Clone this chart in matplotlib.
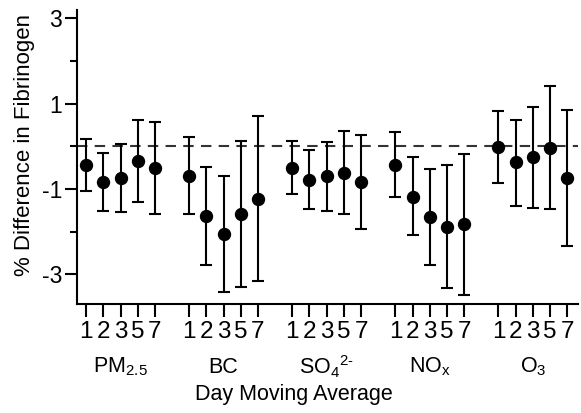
import matplotlib
matplotlib.use("Agg")
import matplotlib.pyplot as plt
import matplotlib.transforms as mtransforms
import numpy as np

plt.rcParams['font.family'] = ['Liberation Sans', 'DejaVu Sans']
plt.rcParams['mathtext.fontset'] = 'custom'
plt.rcParams['mathtext.rm'] = 'Liberation Sans'
plt.rcParams['mathtext.it'] = 'Liberation Sans'

pollutants = [r'PM$_{2.5}$', 'BC', r'SO$_4$$^{2\text{-}}$', r'NO$_x$', r'O$_3$']
days = ['1', '2', '3', '5', '7']

# point estimates and 95% CI per pollutant (days 1,2,3,5,7)
est = [
    [-0.45, -0.84, -0.74, -0.34, -0.51],
    [-0.69, -1.64, -2.05, -1.60, -1.23],
    [-0.51, -0.78, -0.70, -0.62, -0.84],
    [-0.44, -1.18, -1.66, -1.89, -1.83],
    [-0.02, -0.38, -0.26, -0.03, -0.74],
]
upper = [
    [0.16, -0.16, 0.06, 0.61, 0.58],
    [0.21, -0.49, -0.69, 0.13, 0.72],
    [0.12, -0.08, 0.11, 0.36, 0.26],
    [0.33, -0.26, -0.54, -0.44, -0.19],
    [0.82, 0.61, 0.92, 1.42, 0.86],
]
lower = [
    [-1.06, -1.53, -1.55, -1.30, -1.59],
    [-1.59, -2.78, -3.42, -3.30, -3.15],
    [-1.12, -1.47, -1.51, -1.60, -1.93],
    [-1.18, -2.09, -2.78, -3.33, -3.49],
    [-0.87, -1.39, -1.44, -1.47, -2.35],
]

fig = plt.figure(figsize=(5.81, 4.13), dpi=100)
ax = fig.add_axes([0.132, 0.264, 0.862, 0.712])
trans = mtransforms.blended_transform_factory(ax.transData, fig.transFigure)

xpos = []
for g in range(len(pollutants)):
    x = np.arange(len(days)) + 6 * g
    xpos.extend(x)
    e = np.array(est[g])
    yerr = [e - np.array(lower[g]), np.array(upper[g]) - e]
    ax.errorbar(x, e, yerr=yerr, fmt='o', color='black', ms=8.6,
                elinewidth=1.5, capsize=4.5, capthick=1.5)
    ax.text(6 * g + 2, 0.111, pollutants[g], transform=trans,
            ha='center', va='center', fontsize=15.5)

ax.axhline(0, color='#333333', lw=1.5, ls=(0, (5, 3.5)), zorder=0)

ax.set_xlim(-0.55, 28.6)
ax.set_ylim(-3.7, 3.2)
ax.set_xticks(xpos)
ax.set_xticklabels(days * len(pollutants), fontsize=17.5)
ax.set_yticks([-3, -1, 1, 3])
ax.set_yticklabels(['-3', '-1', '1', '3'], fontsize=16.5)
ax.set_yticks([-2, 0, 2], minor=True)
ax.tick_params(axis='x', which='major', length=9, width=1.5, pad=3.5)
ax.tick_params(axis='y', which='major', length=9, width=1.5, pad=1.5)
ax.tick_params(axis='y', which='minor', length=5, width=1.5)
for s in ['top', 'right']:
    ax.spines[s].set_visible(False)
for s in ['left', 'bottom']:
    ax.spines[s].set_linewidth(1.5)

fig.text(0.042, 0.649, '% Difference in Fibrinogen', rotation=90,
         ha='center', va='center', fontsize=16)
fig.text(0.506, 0.044, 'Day Moving Average', ha='center', va='center', fontsize=15.5)

fig.savefig('out.png', dpi=100)
